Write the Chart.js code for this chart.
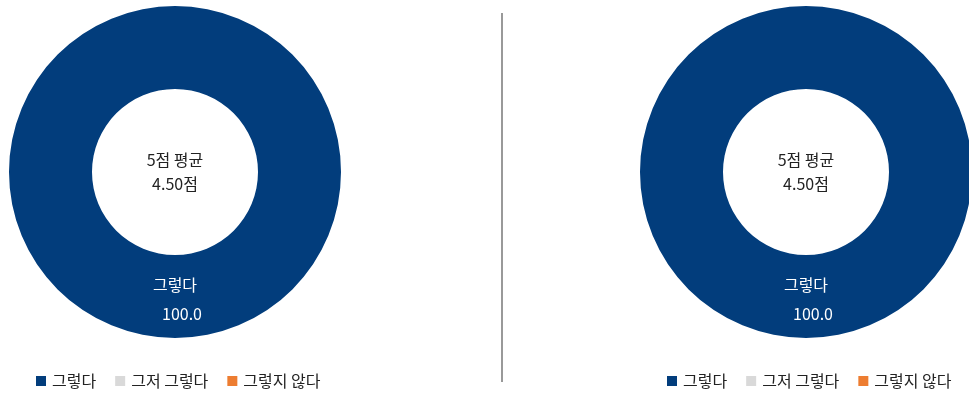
<!DOCTYPE html>
<html>
<head>
<meta charset="utf-8">
<script src="https://cdn.jsdelivr.net/npm/chart.js@4/dist/chart.umd.min.js"></script>
<style>
  html, body { margin: 0; padding: 0; background: #fff; overflow: hidden; width: 969px; height: 394px; }
  .box { position: absolute; top: 0; width: 350px; height: 394px; }
  #divider { position: absolute; left: 501px; top: 13px; width: 2px; height: 369px; background: #999; }
</style>
</head>
<body>
<div class="box" style="left:0"><canvas id="chart-left" width="350" height="394"></canvas></div>
<div id="divider"></div>
<div class="box" style="left:631px"><canvas id="chart-right" width="350" height="394"></canvas></div>
<script>
// 데이터
const categories = ['그렇다', '그저 그렇다', '그렇지 않다'];
const colors = ['#023d7c', '#d9d9d9', '#ed7d31'];
const leftValues = [100.0, 0, 0];
const rightValues = [100.0, 0, 0];
const centerTitle = '5점 평균';
const leftAverage = '4.50점';
const rightAverage = '4.50점';

const FONT = "'Noto Sans CJK KR', 'Noto Sans', sans-serif";

// 가운데 글자 + 조각 라벨 + 범례
const donutText = {
  id: 'donutText',
  afterDatasetsDraw(chart, args, opts) {
    const ctx = chart.ctx;
    const meta = chart.getDatasetMeta(0);
    const arc = meta.data[0];
    ctx.save();
    ctx.textAlign = 'center';
    ctx.textBaseline = 'middle';
    ctx.font = '16px ' + FONT;
    ctx.fillStyle = '#222';
    ctx.fillText(centerTitle, arc.x, arc.y - 12);
    ctx.fillText(opts.average, arc.x, arc.y + 12);

    // 조각 라벨
    const values = chart.data.datasets[0].data;
    meta.data.forEach(function (el, i) {
      if (!values[i]) return;
      const p = el.tooltipPosition();
      ctx.fillStyle = '#fff';
      ctx.fillText(chart.data.labels[i], p.x, p.y - 12);
      ctx.fillText(values[i].toFixed(1), p.x + 7, p.y + 17);
    });

    // 범례
    let x = 36;
    const y = 381;
    ctx.textAlign = 'left';
    chart.data.labels.forEach(function (label, i) {
      ctx.fillStyle = chart.data.datasets[0].backgroundColor[i];
      ctx.fillRect(x, y - 5, 10, 10);
      ctx.fillStyle = '#222';
      ctx.fillText(label, x + 16, y);
      x += 16 + ctx.measureText(label).width + 19;
    });
    ctx.restore();
  }
};

function makeChart(id, values, average) {
  return new Chart(document.getElementById(id), {
    type: 'doughnut',
    data: {
      labels: categories,
      datasets: [{
        data: values,
        backgroundColor: colors,
        borderWidth: 0,
      }],
    },
    options: {
      responsive: false,
      animation: false,
      cutout: '50%',
      layout: { padding: { left: 9, right: 9, top: 6, bottom: 56 } },
      plugins: {
        legend: { display: false },
        tooltip: { enabled: false },
        donutText: { average: average },
      },
    },
    plugins: [donutText],
  });
}

makeChart('chart-left', leftValues, leftAverage);
makeChart('chart-right', rightValues, rightAverage);
</script>
</body>
</html>
